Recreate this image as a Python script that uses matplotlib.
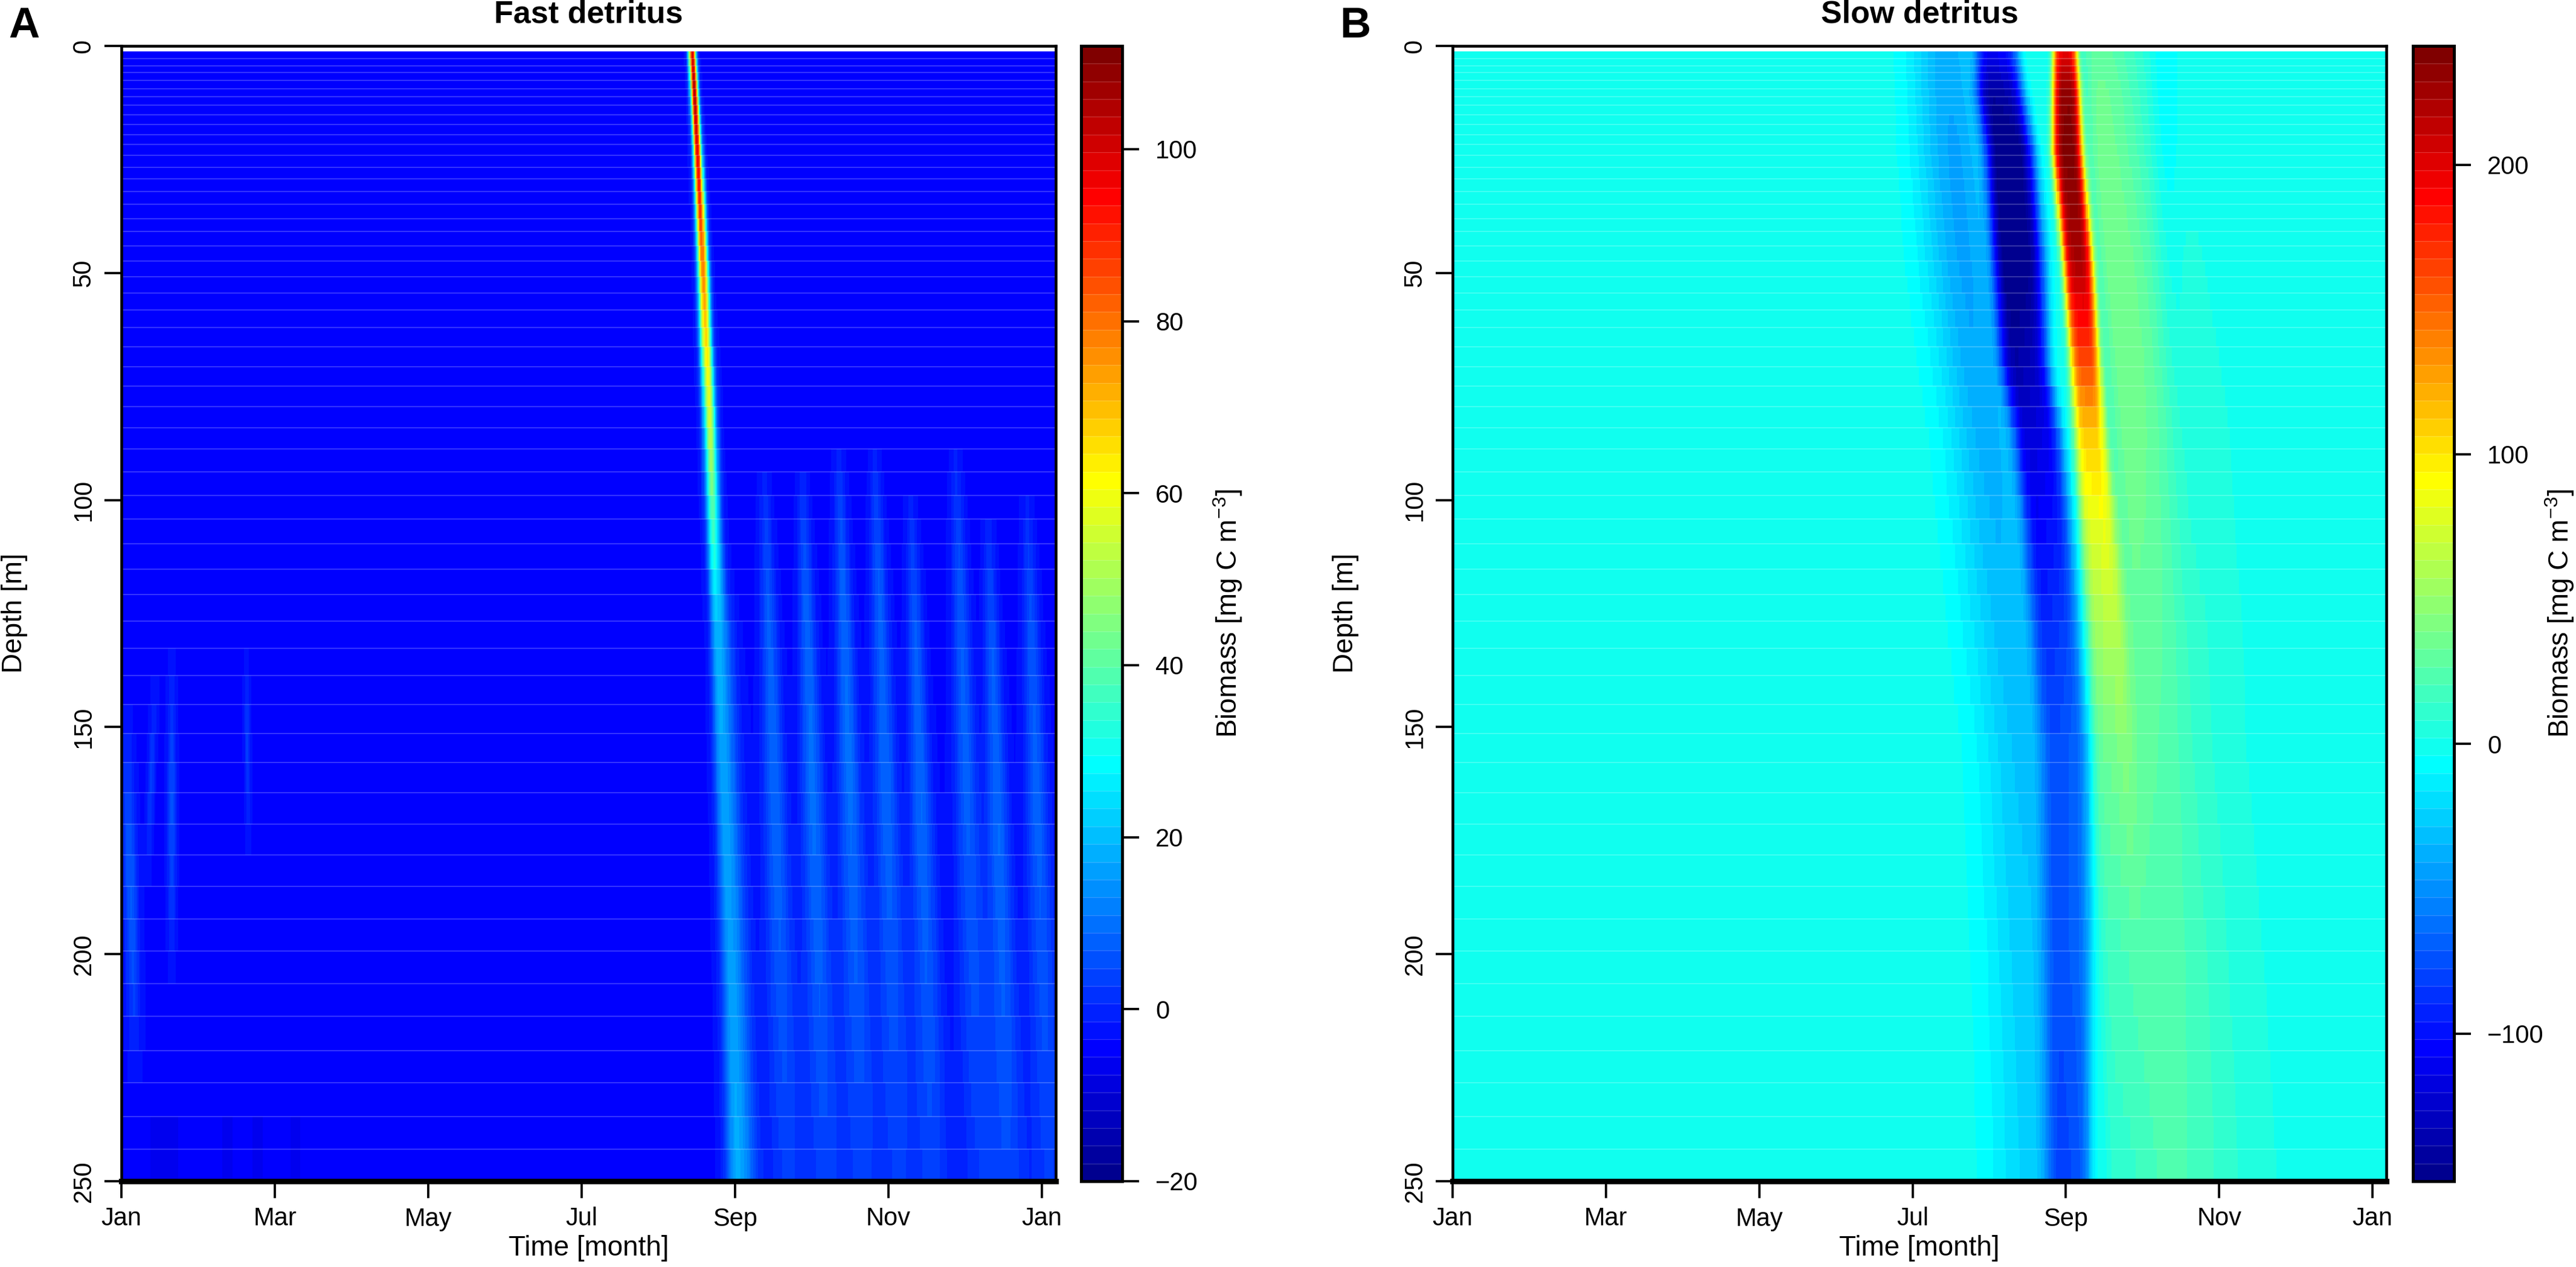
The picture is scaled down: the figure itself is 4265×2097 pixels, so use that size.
import numpy as np
import matplotlib
matplotlib.use("Agg")
import matplotlib.pyplot as plt
from matplotlib.colors import LinearSegmentedColormap

plt.rcParams['font.family'] = ['Liberation Sans', 'DejaVu Sans']
plt.rcParams['mathtext.default'] = 'regular'

# ---- grid ----
# layer boundaries [m] (the faint horizontal lines)
depth_edges = [1.2, 2.8, 4.4, 5.9, 7.6, 9.4, 11.2, 13.1, 15.2, 17.3, 19.5, 21.7, 24.1, 26.7,
               29.3, 32.0, 34.9, 38.0, 40.9, 44.0, 47.4, 50.8, 54.4, 58.2, 62.0, 66.3, 70.7,
               74.9, 79.4, 84.1, 88.8, 93.8, 99.0, 104.2, 109.6, 115.2, 120.8, 126.7, 132.7,
               138.7, 145.0, 151.4, 157.8, 164.4, 171.4, 178.2, 185.1, 192.2, 199.3, 206.5,
               213.7, 221.2, 228.3, 235.7, 243.0, 250.0]
t_end = 370.5
month_labels = ['Jan', 'Mar', 'May', 'Jul', 'Sep', 'Nov', 'Jan']

# ---- A: fast detritus ----
base_A = -4  # background level (pure blue in the picture)
zr = [1.2, 10, 21, 32, 44, 51, 63, 70, 82, 94, 104, 115, 121, 130, 155, 200, 250]
ridge_day = [226.3, 227.2, 228.2, 229.2, 230.2, 230.8, 231.6, 232.3, 233.3, 234.0, 234.5,
             235.2, 235.6, 236.3, 238.0, 241.5, 244.5]
ridge_amp = [104, 112, 104, 96, 86, 81, 72, 66, 60, 50, 42, 34, 27, 23, 21, 20, 22]
ridge_sl = [1.0, 1.05, 1.15, 1.3, 1.4, 1.5, 1.6, 1.7, 1.75, 1.8, 1.8, 1.8, 1.8, 1.9, 2.2, 2.8, 3.2]
ridge_sr = [1.0, 1.05, 1.15, 1.3, 1.4, 1.5, 1.6, 1.7, 1.75, 1.9, 2.0, 2.4, 3.0, 3.8, 4.3, 4.8, 5.2]

# autumn stripes below ~90 m
stripe_day = [254.8, 269.9, 284.3, 298.6, 313.0, 330.7, 343.6, 359.0]
stripe_top = [93.7, 93.7, 89.0, 89.0, 99.0, 89.0, 104.0, 99.0]
stripe_amp = [13, 14, 14, 13, 13, 12, 13, 12]
stripe_rel = [0, 10, 30, 70, 120, 160]
stripe_gain = [0.15, 0.5, 0.85, 1.0, 0.75, 0.5]

# faint winter stripes
winter_day = [1.7, 13.5, 20.0, 49.5]
winter_top = [145, 138, 133, 133]
winter_bot = [228, 186, 206, 178]
winter_amp = [11, 7, 9, 7]
winter_slant = [0.048, -0.07, 0.0, 0.02]
winter_sig = [2.0, 1.0, 1.2, 0.8]

# slightly darker patches near the bottom
neg_day = [17, 42, 54, 69]
neg_amp = [-3, -2.5, -2.5, -2]
neg_sig = [5, 2, 2, 3]

# ---- B: slow detritus (control depths) ----
zb = [1.2, 10, 23, 47, 70, 85, 105, 130, 155, 200, 250]
core_day = [216, 217, 221, 224, 227, 232, 236, 240, 244, 245, 246]
core_amp = [-100, -135, -150, -150, -125, -110, -95, -75, -62, -60, -66]
core_sl = [7, 7.5, 8, 8, 8, 8, 8, 8.5, 9, 9, 9]
core_sr = [7, 8, 8.2, 9, 8, 8, 8, 7.5, 7, 7, 6]

broad_day = [196, 197, 199, 203, 208, 212, 216, 221, 226, 229, 231]
broad_amp = [-38, -40, -42, -42, -40, -38, -35, -32, -30, -27, -25]
broad_sig = [10, 10, 10.5, 11, 11, 11, 11.5, 12, 12, 12, 12]

peak_day = [243, 243.5, 244, 248, 251, 252.5, 255.5, 258.5, 261, 264, 267]
peak_amp = [195, 232, 238, 222, 160, 110, 80, 55, 33, 18, 12]
peak_sl = [4, 4.5, 5, 5, 5, 5, 5.5, 5.5, 6, 6, 6]
peak_sr = [4, 4.5, 5, 5, 5, 5.5, 6.5, 7.5, 8, 9, 10]

tail_day = [256, 257, 258, 262, 266, 268, 270, 272, 274, 280, 284]
tail_amp = [30, 34, 36, 38, 38, 36, 34, 31, 28, 24, 22]
tail_sl = [5, 5, 5, 5, 5.5, 6, 6, 6, 6, 6, 6]
tail_sr = [12, 12, 13, 15, 16, 17, 17, 18, 18, 19, 20]

right_day = [282, 282.5, 283, 284.5, 287, 289, 291, 293, 295, 297, 299]
right_amp = [-12, -12, -12, -11, -10, -8, -6, -3, -1, 0, 0]
right_sig = [4, 4, 4, 4, 4.5, 4.5, 5, 5, 5, 5, 5]


def band(t, c, amp, sl, sr, p=2.0):
    s = np.where(t < c, sl, sr)
    return amp * np.exp(-0.5 * np.abs((t - c) / s) ** p)


dz = np.array(depth_edges)
zc = 0.5 * (dz[:-1] + dz[1:])[:, None]
t_edges = np.arange(0, t_end + 0.01, 0.5)
tc = 0.5 * (t_edges[:-1] + t_edges[1:])[None, :]


def at(zs, vals):
    return np.interp(zc, zs, vals)


# field A
ZA = base_A + band(tc, at(zr, ridge_day), at(zr, ridge_amp), at(zr, ridge_sl), at(zr, ridge_sr))
for d0, top, amp in zip(stripe_day, stripe_top, stripe_amp):
    rel = zc - top
    g = np.where(rel >= 0, np.interp(rel, stripe_rel, stripe_gain), 0.0)
    sig = 1.5 + 0.025 * np.clip(rel, 0, None)
    ZA += g * band(tc, d0 + 0.06 * np.clip(rel, 0, None), amp, sig, sig)
for d0, top, bot, amp, sl, sg in zip(winter_day, winter_top, winter_bot, winter_amp,
                                     winter_slant, winter_sig):
    g = np.sin(np.pi * np.clip((zc - top) / (bot - top), 0, 1))
    ZA += g * band(tc, d0 + sl * (zc - top), amp, sg, sg)
for d0, amp, sg in zip(neg_day, neg_amp, neg_sig):
    ZA += np.where(zc > 235, band(tc, d0, amp, sg, sg), 0.0)

# field B
ZB = band(tc, at(zb, core_day), at(zb, core_amp), at(zb, core_sl), at(zb, core_sr), 4)
ZB += band(tc, at(zb, broad_day), at(zb, broad_amp), at(zb, broad_sig), at(zb, broad_sig))
ZB += band(tc, at(zb, peak_day), at(zb, peak_amp), at(zb, peak_sl), at(zb, peak_sr), 4)
ZB += band(tc, at(zb, tail_day), at(zb, tail_amp), at(zb, tail_sl), at(zb, tail_sr))
ZB += band(tc, at(zb, right_day), at(zb, right_amp), at(zb, right_sig), at(zb, right_sig))

# 64-colour rainbow like fields::tim.colors
cmap = LinearSegmentedColormap.from_list(
    'tim', [(0, '#00008F'), (7 / 63, '#0000FF'), (23 / 63, '#00FFFF'),
            (39 / 63, '#FFFF00'), (55 / 63, '#FF0000'), (1, '#800000')], N=64)

W, H = 4265, 2097
fig = plt.figure(figsize=(W / 300, H / 300), dpi=300)


def frac(l, t, r, b):
    return [l / W, 1 - b / H, (r - l) / W, (b - t) / H]


panels = [
    (ZA, -20, 112, [-20, 0, 20, 40, 60, 80, 100], 'Fast detritus', 'A', 201, 1748, 1790, 1858),
    (ZB, -151, 241, [-100, 0, 100, 200], 'Slow detritus', 'B', 2405, 3951, 3995, 4063),
]

for Z, vmin, vmax, cticks, title, letter, l, r, cl, cr in panels:
    ax = fig.add_axes(frac(l, 76, r, 1955))
    cax = fig.add_axes(frac(cl, 76, cr, 1955))
    mesh = ax.pcolormesh(t_edges, dz, Z, cmap=cmap, vmin=vmin, vmax=vmax,
                         shading='flat', antialiased=False)
    ax.hlines(dz[1:-1], 0, t_end, colors='white', lw=0.4, alpha=0.25)
    ax.set_xlim(0, t_end)
    ax.set_ylim(250, 0)
    ax.set_xticks(np.linspace(0, 365, 7))
    ax.set_xticklabels(month_labels)
    ax.set_yticks([0, 50, 100, 150, 200, 250])
    ax.set_yticklabels(['0', '50', '100', '150', '200', '250'], rotation=90, va='center')
    ax.tick_params(length=6.7, width=0.9, labelsize=10, pad=3.5)
    for side in ['top', 'left', 'right']:
        ax.spines[side].set_linewidth(1.1)
    ax.spines['bottom'].set_linewidth(2.2)

    cb = fig.colorbar(mesh, cax=cax)
    cb.set_ticks(cticks)
    cb.outline.set_linewidth(1.2)
    cax.hlines(np.linspace(vmin, vmax, 65)[1:-1], 0, 1, colors='white', lw=0.3, alpha=0.2)
    cax.tick_params(length=6.7, width=0.9, labelsize=10, pad=6.5)

    fig.text((l + r) / 2 / W, 1 - 24 / H, title, ha='center', va='center',
             fontsize=12.5, fontweight='bold')
    fig.text((l - 161) / W, 1 - 44 / H, letter, ha='center', va='center',
             fontsize=17, fontweight='bold')
    fig.text((l - 177) / W, 1 - 1015 / H, 'Depth [m]', ha='center', va='center',
             rotation=90, fontsize=11)
    fig.text((l + r) / 2 / W, 1 - 2066 / H, 'Time [month]', ha='center', va='center',
             fontsize=11)
    fig.text((cr + 175) / W, 1 - 1015 / H, 'Biomass [mg C m$^{-3}$]', ha='center',
             va='center', rotation=90, fontsize=11)

fig.savefig('out.png', dpi=300)
